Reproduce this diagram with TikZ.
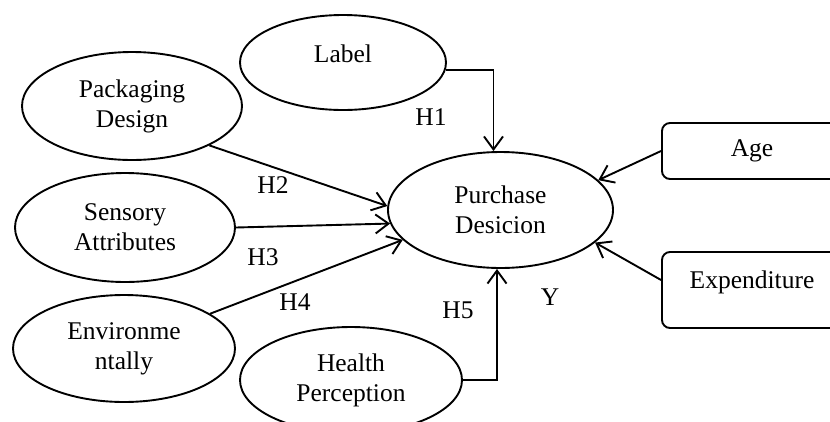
\documentclass[tikz,border=0pt]{standalone}
\usepackage{fontspec}
\setmainfont{Liberation Serif}
\usetikzlibrary{shapes.geometric,arrows.meta}

\begin{document}
\begin{tikzpicture}[x=1pt,y=-1pt,line width=1.9pt,
    font=\fontsize{25.5}{30}\selectfont,
    ell/.style={draw,ellipse,inner sep=0pt,align=center},
    sidebox/.style={draw,rectangle,rounded corners=8pt,minimum width=180pt,inner sep=0pt},
    arr/.style={-{Straight Barb[length=13pt,width=19pt]}}]
            \clip (0,0) rectangle (830,421);
            \node[ell,minimum width=206pt,minimum height=95pt,text depth=18pt] (label) at (343,62.5) {Label};
            \node[ell,minimum width=220pt,minimum height=108pt] (pack) at (132,106) {Packaging\\Design};
            \node[ell,minimum width=220pt,minimum height=109pt] (sens) at (125,227.5) {Sensory\\Attributes};
            \node[ell,minimum width=222pt,minimum height=107pt] (env) at (124,348.5) {Environme\\ntally};
            \node[ell,minimum width=222pt,minimum height=106pt] (health) at (351,380) {Health\\Perception};
            \node[ell,minimum width=225pt,minimum height=116pt] (pd) at (500.5,210) {Purchase\\Desicion};
            \node[sidebox,minimum height=56pt] (age) at (752,151) {Age};
            \node[sidebox,minimum height=76pt,text depth=20pt] (exp) at (752,290) {Expenditure};
            \draw[arr](label.-4) -| ([xshift=-7pt]pd.north);
            \draw[arr](pack.-27) -- (pd.178);
            \draw[arr](sens.east) -- (pd.187);
            \draw[arr](env.22) -- (pd.197);
            \draw[arr](health.east) -| ([xshift=-3.5pt]pd.south);
            \draw[arr](age.west) -- (pd.17);
            \draw[arr]([yshift=10pt]exp.west) -- (pd.-19);
            \node (h1) at (431,117) {H1};
            \node (h2) at (273,185) {H2};
            \node (h3) at (263,257) {H3};
            \node (h4) at (295,302) {H4};
            \node (h5) at (458,310) {H5};
            \node (y) at (550,297) {Y};
\end{tikzpicture}
\end{document}
